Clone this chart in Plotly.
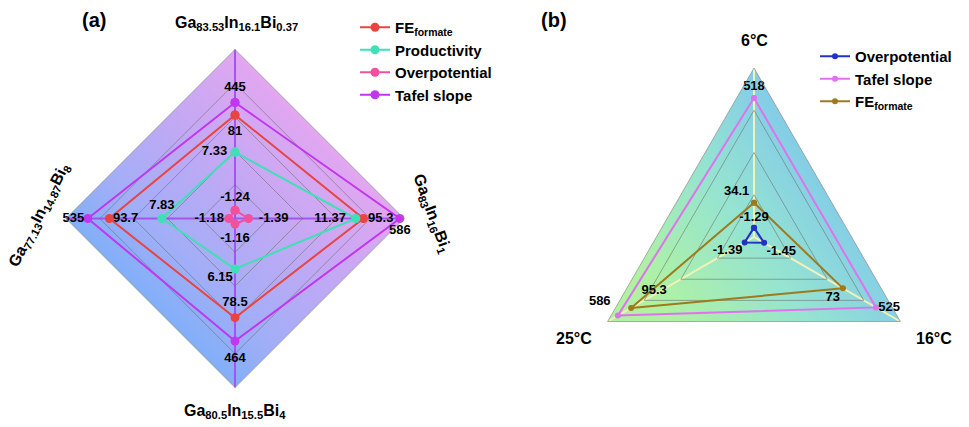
import base64
import math
import plotly.graph_objects as go

# ---------------- (a) alloy composition radar ----------------
alloys = [
    "Ga<sub>83.53</sub>In<sub>16.1</sub>Bi<sub>0.37</sub>",
    "Ga<sub>83</sub>In<sub>16</sub>Bi<sub>1</sub>",
    "Ga<sub>80.5</sub>In<sub>15.5</sub>Bi<sub>4</sub>",
    "Ga<sub>77.13</sub>In<sub>14.87</sub>Bi<sub>8</sub>",
]
fe_a = [81, 95.3, 78.5, 93.7]
prod_a = [7.33, 11.37, 6.15, 7.83]
over_a = [-1.24, -1.39, -1.16, -1.18]
tafel_a = [445, 586, 464, 535]

# ---------------- (b) temperature radar ----------------
temps = ["6°C", "16°C", "25°C"]
over_b = [-1.29, -1.45, -1.39]
tafel_b = [518, 525, 586]
fe_b = [34.1, 73, 95.3]

# per-series radial scales (value at centre, value at rim)
SCALE_A = {"fe": (21.4, 118.7), "prod": (2.4, 14.95), "over": (-1.0, -5.9), "tafel": (110, 598)}
SCALE_B = {"over": (-0.66, -12.06), "tafel": (0, 630), "fe": (14.6, 110.7)}

W, H = 969, 427
FONT = "Liberation Sans, Arial, sans-serif"


def norm(vals, scale):
    lo, hi = scale
    return [(v - lo) / (hi - lo) for v in vals]


def closed(seq):
    return list(seq) + [seq[0]]


def fmt(v):
    return "%g" % v


def polygon_svg(n, stops, p1, p2):
    pts = []
    for i in range(n):
        ang = math.radians(90 - i * 360.0 / n)
        pts.append("%.2f,%.2f" % (500 + 500 * math.cos(ang), 500 - 500 * math.sin(ang)))
    stop_xml = "".join('<stop offset="%s" stop-color="%s"/>' % (o, c) for o, c in stops)
    svg = (
        '<svg xmlns="http://www.w3.org/2000/svg" width="1000" height="1000" viewBox="0 0 1000 1000" '
        'preserveAspectRatio="none"><defs><linearGradient id="g" x1="%s" y1="%s" x2="%s" y2="%s">%s'
        '</linearGradient></defs><polygon points="%s" fill="url(#g)"/></svg>'
        % (p1[0], p1[1], p2[0], p2[1], stop_xml, " ".join(pts))
    )
    return "data:image/svg+xml;base64," + base64.b64encode(svg.encode()).decode()


# polar domains in pixels (left, right, top, bottom)
DOM_A = (66, 404, 49.5, 387.5)
DOM_B = (585, 923, 68, 406)


def dom(d):
    return dict(x=[d[0] / W, d[1] / W], y=[1 - d[3] / H, 1 - d[2] / H])


fig = go.Figure()

# name, values, scale, colour, label positions, label gap (invisible marker size)
series_a = [
    ("FE<sub>formate</sub>", fe_a, SCALE_A["fe"], "#ea4440",
     ["bottom center", "middle right", "top center", "middle right"], [15, 6, 12, 4]),
    ("Productivity", prod_a, SCALE_A["prod"], "#3fe0b5",
     ["middle left", "middle left", "bottom left", "top center"], [11, 14, 2, 8]),
    ("Overpotential", over_a, SCALE_A["over"], "#f2509c",
     ["top center", "middle right", "bottom center", "middle left"], [8, 15, 12, 6]),
    ("Tafel slope", tafel_a, SCALE_A["tafel"], "#c236f0",
     ["top center", "bottom center", "bottom center", "middle left"], [11, 8, 17, 4]),
]

for name, vals, sc, col, _, _ in series_a:
    fig.add_trace(go.Scatterpolar(
        r=closed(norm(vals, sc)), theta=closed(alloys), subplot="polar", legend="legend",
        name=name, mode="lines+markers",
        line=dict(color=col, width=2),
        marker=dict(size=9, color=col, line=dict(width=0)),
    ))

series_b = [
    ("Overpotential", over_b, SCALE_B["over"], "#2233c4",
     ["top center", "bottom right", "bottom left"], [4, 2, 2]),
    ("Tafel slope", tafel_b, SCALE_B["tafel"], "#e072f0",
     ["top center", "middle right", "top left"], [6, 2, 10]),
    ("FE<sub>formate</sub>", fe_b, SCALE_B["fe"], "#9e7a1c",
     ["top left", "bottom left", "top right"], [6, 3, 15]),
]

for name, vals, sc, col, _, _ in series_b:
    fig.add_trace(go.Scatterpolar(
        r=closed(norm(vals, sc)), theta=closed(temps), subplot="polar2", legend="legend2",
        name=name, mode="lines+markers",
        line=dict(color=col, width=2),
        marker=dict(size=6, color=col, line=dict(width=0)),
    ))

# value labels, offset from each point by an invisible marker of the given size
for sub, cats, series in (("polar", alloys, series_a), ("polar2", temps, series_b)):
    for name, vals, sc, col, pos, gap in series:
        fig.add_trace(go.Scatterpolar(
            r=norm(vals, sc), theta=cats, subplot=sub, mode="markers+text", showlegend=False,
            marker=dict(size=gap, color="rgba(0,0,0,0)", opacity=0, line=dict(width=0)),
            text=[fmt(v) for v in vals], textposition=pos,
            textfont=dict(family=FONT, size=13, color="black", weight="bold"),
            hoverinfo="skip",
        ))


def polar_layout(d, cats, grid_vals, spoke_col):
    return dict(
        domain=dom(d),
        bgcolor="rgba(0,0,0,0)",
        gridshape="linear",
        radialaxis=dict(range=[0, 1], tickvals=grid_vals, showticklabels=False, ticks="",
                        showline=False, gridcolor="rgba(105,105,105,0.55)", gridwidth=0.8),
        angularaxis=dict(type="category", categoryarray=cats, rotation=90, direction="clockwise",
                         showticklabels=False, ticks="", gridcolor=spoke_col, gridwidth=1.5,
                         showline=True, linecolor="rgba(140,140,140,0.7)", linewidth=1),
    )


legend_font = dict(family=FONT, size=15, color="black", weight="bold")

fig.update_layout(
    width=W, height=H,
    margin=dict(l=0, r=0, t=0, b=0),
    paper_bgcolor="white",
    plot_bgcolor="white",
    polar=polar_layout(DOM_A, alloys, [0.2, 0.4, 0.6, 0.8], "#a653f2"),
    polar2=polar_layout(DOM_B, temps, [0.25, 0.5, 0.75], "#f2f2b8"),
    legend=dict(x=355 / W, y=1 - 11 / H, xanchor="left", yanchor="top",
                bgcolor="rgba(0,0,0,0)", font=legend_font, tracegroupgap=0),
    legend2=dict(x=815 / W, y=1 - 40 / H, xanchor="left", yanchor="top",
                 bgcolor="rgba(0,0,0,0)", font=legend_font, tracegroupgap=0),
    images=[
        dict(source=polygon_svg(4, [(0, "#6cb0f8"), (0.3, "#a2aef7"), (0.6, "#c4a8f4"), (1, "#eea6ee")],
                                (0.2, 0.85), (0.85, 0.2)),
             xref="paper", yref="paper", x=DOM_A[0] / W, y=1 - DOM_A[2] / H,
             sizex=(DOM_A[1] - DOM_A[0]) / W, sizey=(DOM_A[3] - DOM_A[2]) / H,
             xanchor="left", yanchor="top", sizing="stretch", layer="below"),
        dict(source=polygon_svg(3, [(0, "#b0f2a2"), (0.45, "#96e4d0"), (1, "#7cc4f0")],
                                (0.1, 0.8), (0.85, 0.35)),
             xref="paper", yref="paper", x=DOM_B[0] / W, y=1 - DOM_B[2] / H,
             sizex=(DOM_B[1] - DOM_B[0]) / W, sizey=(DOM_B[3] - DOM_B[2]) / H,
             xanchor="left", yanchor="top", sizing="stretch", layer="below"),
    ],
    showlegend=True,
)

label_font = dict(family=FONT, size=16, color="black", weight="bold")


def px_note(text, x, y, angle=0, size=16):
    f = dict(label_font)
    f["size"] = size
    fig.add_annotation(text=text, x=x / W, y=1 - y / H, xref="paper", yref="paper",
                       showarrow=False, textangle=angle, font=f,
                       xanchor="center", yanchor="middle")


px_note("(a)", 94, 20, size=20)
px_note("(b)", 554, 20, size=20)
px_note(alloys[0], 236, 24)
px_note(alloys[1], 432, 213, angle=70)
px_note(alloys[2], 235, 411)
px_note(alloys[3], 39, 215, angle=-63)
px_note(temps[0], 754, 40)
px_note(temps[1], 934, 338)
px_note(temps[2], 574, 338)

fig.write_html("out.html")
